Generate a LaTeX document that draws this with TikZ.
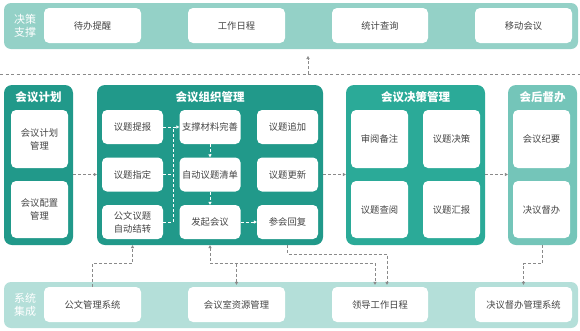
\documentclass[tikz,border=0pt]{standalone}
\usepackage{fontspec}
\setmainfont{Noto Sans CJK SC}
\usetikzlibrary{arrows.meta,calc}
\definecolor{pdark}{HTML}{21998A}
\definecolor{pmid}{HTML}{2BAA98}
\definecolor{plight}{HTML}{74C5B9}
\definecolor{topc}{HTML}{94D1C7}
\definecolor{botc}{HTML}{B4DFD9}
\definecolor{txt}{HTML}{444444}
\definecolor{lnc}{HTML}{8A8A8A}
\tikzset{
  band/.style={draw=none, rounded corners=7pt, inner sep=0pt},
  panel/.style={draw=none, rounded corners=8pt, inner sep=0pt},
  wbox/.style={fill=white, draw=none, rounded corners=5pt, inner sep=0pt, align=center,
    font=\fontsize{9.3}{13}\selectfont, text=txt},
  ptitle/.style={text=white, font=\fontsize{11.5}{13}\selectfont\bfseries, inner sep=0pt},
  slabel/.style={text=white, font=\fontsize{11}{13.5}\selectfont, align=center, inner sep=0pt},
  dline/.style={draw=lnc, line width=0.6pt, dash pattern=on 3pt off 2pt},
  arr/.style={dline, -{Triangle[length=3pt,width=3.2pt]}},
  inner/.style={draw=white},
}
\begin{document}
\begin{tikzpicture}[x=1pt,y=-1pt]
\useasboundingbox (0,0) rectangle (580,330);
% top band
\node[band, fill=topc, minimum width=574pt, minimum height=46pt] (topband) at (291,26) {};
\node[slabel] (toplab) at (25,26) {决策\\支撑};
\node[wbox, minimum width=97pt, minimum height=35pt] (t1) at (92.5,25.5) {待办提醒};
\node[wbox, minimum width=97pt, minimum height=35pt] (t2) at (236.5,25.5) {工作日程};
\node[wbox, minimum width=96pt, minimum height=35pt] (t3) at (380,25.5) {统计查询};
\node[wbox, minimum width=97pt, minimum height=35pt] (t4) at (523.5,25.5) {移动会议};
% dashed separator
\coordinate (dl) at (0,74);
\coordinate (dr) at (580,74);
\coordinate (up) at (308,74);
\draw[dline, dash pattern=on 3pt off 2.5pt] (dl) -- (dr);
\draw[arr] (up) -- ++(0,-18);
% panels
\node[panel, fill=pdark, minimum width=69pt, minimum height=160pt] (p1) at (38.5,165) {};
\node[panel, fill=pdark, minimum width=226pt, minimum height=160pt] (p2) at (210,165) {};
\node[panel, fill=pmid, minimum width=139pt, minimum height=160pt] (p3) at (415.5,165) {};
\node[panel, fill=plight, minimum width=69pt, minimum height=160pt] (p4) at (542.5,165) {};
\node[ptitle] (p1t) at (38.5,97.5) {会议计划};
\node[ptitle] (p2t) at (210,97.5) {会议组织管理};
\node[ptitle] (p3t) at (415.5,97.5) {会议决策管理};
\node[ptitle] (p4t) at (542.5,97.5) {会后督办};
% panel 1
\node[wbox, minimum width=57pt, minimum height=58pt] (jh) at (39.5,139) {会议计划\\管理};
\node[wbox, minimum width=57pt, minimum height=57pt] (pz) at (39.5,209.5) {会议配置\\管理};
% panel 2
\node[wbox, minimum width=61pt, minimum height=34pt] (tb) at (132.5,127) {议题提报};
\node[wbox, minimum width=61pt, minimum height=34pt] (zd) at (132.5,174.5) {议题指定};
\node[wbox, minimum width=61pt, minimum height=34pt] (gw) at (132.5,222) {公文议题\\自动结转};
\node[wbox, minimum width=61pt, minimum height=34pt] (zc) at (210,127) {支撑材料完善};
\node[wbox, minimum width=61pt, minimum height=34pt] (qd) at (210,174.5) {自动议题清单};
\node[wbox, minimum width=61pt, minimum height=34pt] (fq) at (210,222) {发起会议};
\node[wbox, minimum width=61pt, minimum height=34pt] (zj) at (287.5,127) {议题追加};
\node[wbox, minimum width=61pt, minimum height=34pt] (gx) at (287.5,174.5) {议题更新};
\node[wbox, minimum width=61pt, minimum height=34pt] (ch) at (287.5,222) {参会回复};
% panel 3
\node[wbox, minimum width=57pt, minimum height=58pt] (sy) at (379.5,139) {审阅备注};
\node[wbox, minimum width=57pt, minimum height=58pt] (jc) at (451.5,139) {议题决策};
\node[wbox, minimum width=57pt, minimum height=57pt] (cy) at (379.5,209.5) {议题查阅};
\node[wbox, minimum width=57pt, minimum height=57pt] (hb) at (451.5,209.5) {议题汇报};
% panel 4
\node[wbox, minimum width=57pt, minimum height=58pt] (jy) at (541.5,139) {会议纪要};
\node[wbox, minimum width=57pt, minimum height=57pt] (db) at (541.5,209.5) {决议督办};
% bottom band
\node[band, fill=botc, minimum width=574pt, minimum height=46pt] (botband) at (291,305) {};
\node[slabel] (botlab) at (25,305) {系统\\集成};
\node[wbox, minimum width=97pt, minimum height=35pt] (b1) at (92.5,304.5) {公文管理系统};
\node[wbox, minimum width=97pt, minimum height=35pt] (b2) at (236.5,304.5) {会议室资源管理};
\node[wbox, minimum width=96pt, minimum height=35pt] (b3) at (380,304.5) {领导工作日程};
\node[wbox, minimum width=97pt, minimum height=35pt] (b4) at (523.5,304.5) {决议督办管理系统};
% panel-to-panel arrows
\draw[arr] (p1.east |- zd.west) -- (p2.west |- zd.west);
\draw[arr] (p2.east |- gx.east) -- (p3.west |- gx.east);
\draw[arr] (p3.east |- gx.east) -- (p4.west |- gx.east);
% inside panel 2
\coordinate (vx) at (173,0);
\draw[arr, inner] (tb.east) -- (zc.west);
\draw[dline, inner] (zd.east) -- (vx |- zd.east);
\draw[dline, inner] (gw.east) -| (vx |- tb.east);
\draw[arr, inner] (zc.south) -- (qd.north);
\draw[arr, inner] (qd.south) -- (fq.north);
\draw[arr, inner] (fq.east) -- (ch.west);
% bottom connectors
\coordinate (h1) at (0,263.5);
\coordinate (h2) at (0,254);
\draw[arr] (b1.north) -- (b1.north |- h1) -| (gw.south |- p2.south);
\draw[arr, {Triangle[length=3pt,width=3.2pt]}-{Triangle[length=3pt,width=3.2pt]}, shorten >=2pt] (fq.south |- p2.south) -- (fq.south |- h1) -| ([xshift=-5pt]b3.north);
\draw[arr, shorten >=2pt] (b2.north |- h1) -- (b2.north);
\draw[arr, shorten >=2pt] (ch.south |- p2.south) -- (ch.south |- h2) -| ([xshift=7pt]b3.north);
\draw[arr, shorten >=2pt] (p4.south) -- (p4.south |- h1) -| (b4.north);
\end{tikzpicture}
\end{document}
